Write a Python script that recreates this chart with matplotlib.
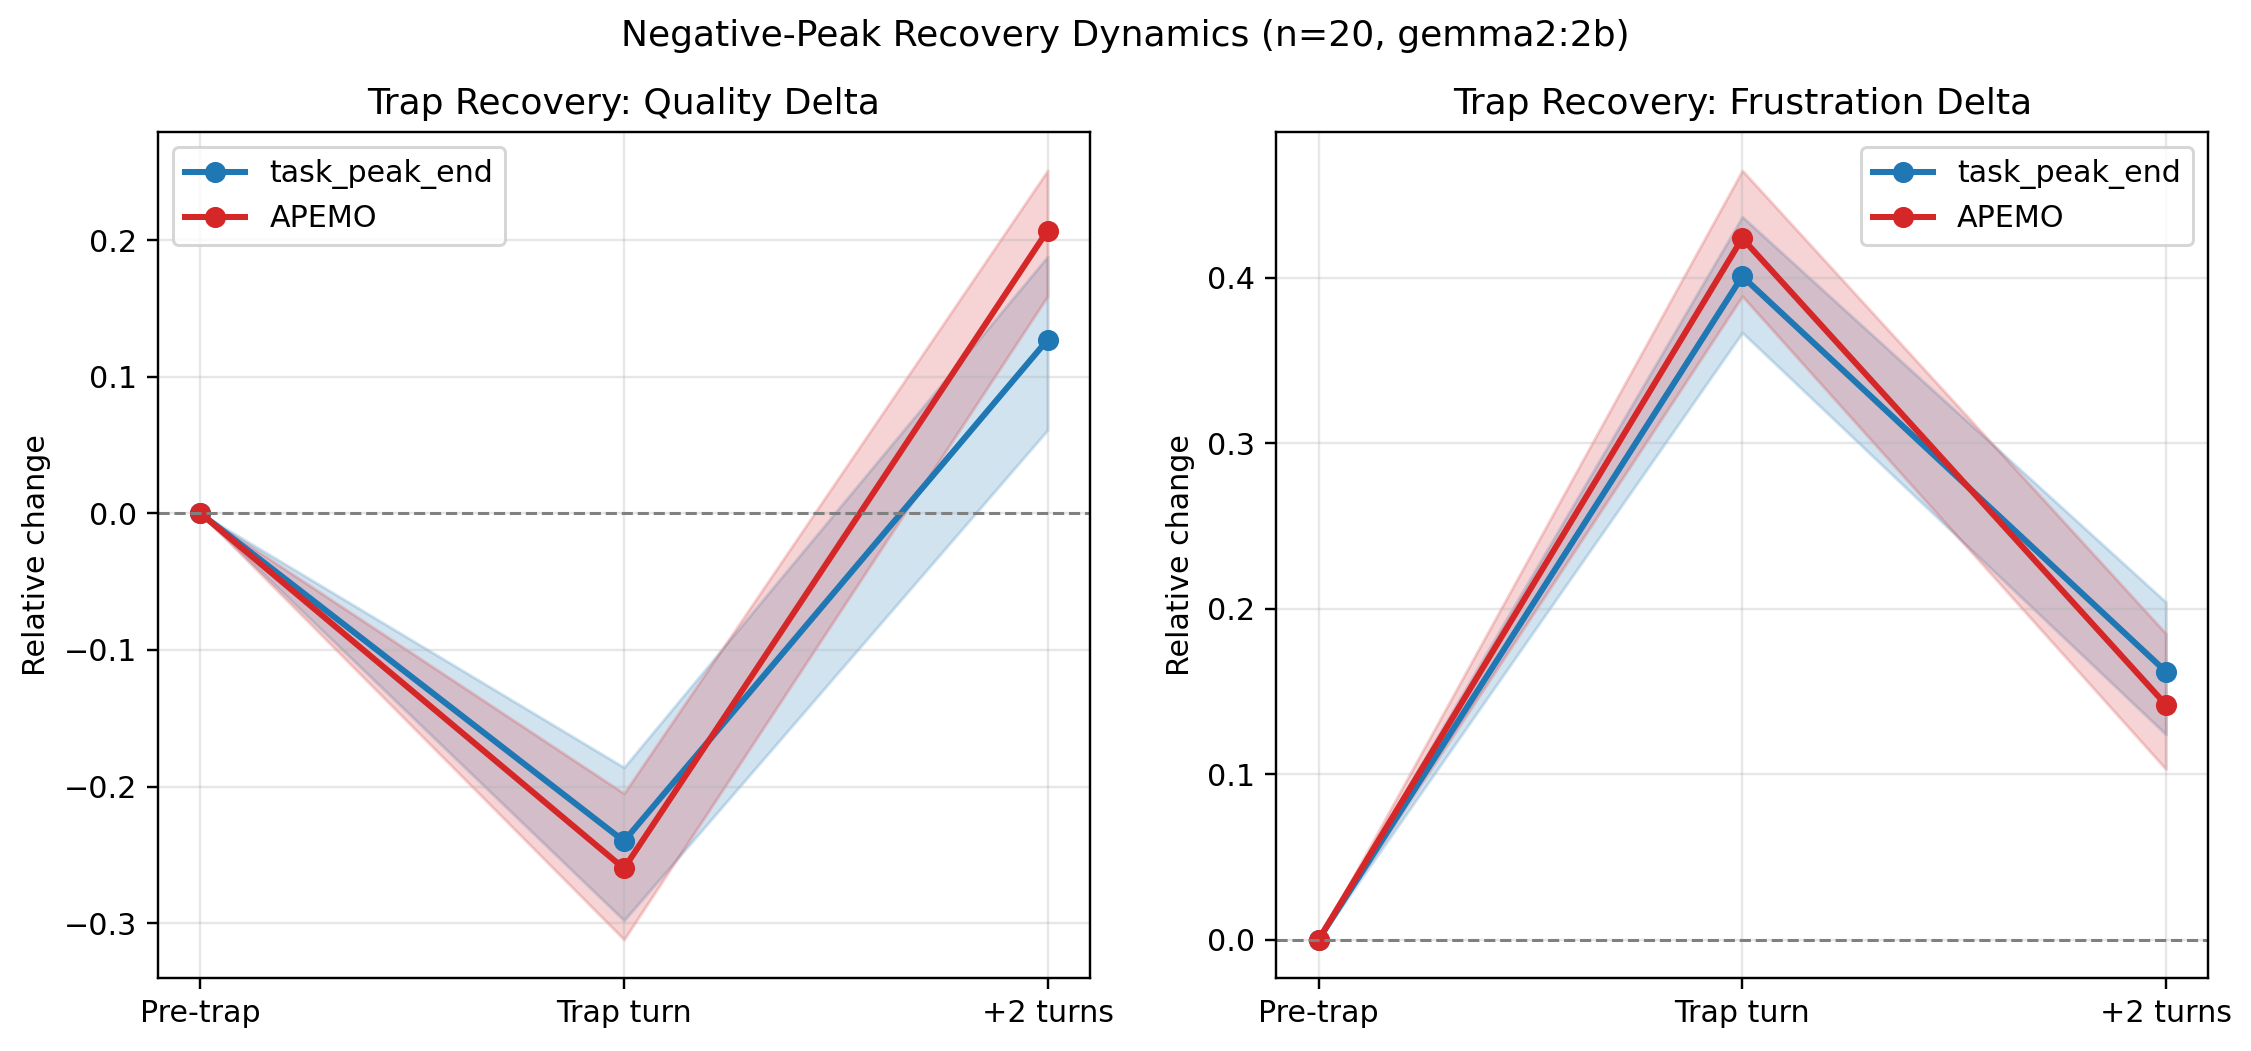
import matplotlib.pyplot as plt

# =========================
# DATA
# =========================
stages = ["Pre-trap", "Trap turn", "+2 turns"]

# Quality delta
q_tpe_mean = [0.0, -0.240, 0.127]
q_tpe_low = [0.0, -0.298, 0.061]
q_tpe_high = [0.0, -0.186, 0.188]
q_apemo_mean = [0.0, -0.260, 0.207]
q_apemo_low = [0.0, -0.312, 0.159]
q_apemo_high = [0.0, -0.205, 0.251]

# Frustration delta
f_tpe_mean = [0.0, 0.401, 0.162]
f_tpe_low = [0.0, 0.367, 0.124]
f_tpe_high = [0.0, 0.437, 0.204]
f_apemo_mean = [0.0, 0.424, 0.142]
f_apemo_low = [0.0, 0.389, 0.103]
f_apemo_high = [0.0, 0.465, 0.185]

BLUE = "#1f77b4"
RED = "#d62728"
DPI = 217


# =========================
# PLOT
# =========================
def draw_panel(ax, title, series, legend_loc):
    x = list(range(len(stages)))
    for label, color, mean, low, high in series:
        ax.fill_between(x, low, high, color=color, alpha=0.2)
        ax.plot(x, mean, "o-", color=color, label=label, linewidth=2, markersize=6)
    ax.axhline(0, color="gray", linestyle="--", linewidth=1)
    ax.set_xticks(x)
    ax.set_xticklabels(stages)
    ax.set_ylabel("Relative change")
    ax.set_title(title)
    ax.grid(True, alpha=0.3)
    ax.legend(loc=legend_loc)


fig, axes = plt.subplots(1, 2, figsize=(2251 / DPI, 1051 / DPI), dpi=DPI)

draw_panel(
    axes[0],
    "Trap Recovery: Quality Delta",
    [
        ("task_peak_end", BLUE, q_tpe_mean, q_tpe_low, q_tpe_high),
        ("APEMO", RED, q_apemo_mean, q_apemo_low, q_apemo_high),
    ],
    "upper left",
)
draw_panel(
    axes[1],
    "Trap Recovery: Frustration Delta",
    [
        ("task_peak_end", BLUE, f_tpe_mean, f_tpe_low, f_tpe_high),
        ("APEMO", RED, f_apemo_mean, f_apemo_low, f_apemo_high),
    ],
    "upper right",
)

fig.suptitle("Negative-Peak Recovery Dynamics (n=20, gemma2:2b)", fontsize=12, y=0.982)
fig.subplots_adjust(left=0.0702, right=0.981, bottom=0.0695, top=0.8744, wspace=0.2)

fig.savefig("out.png", dpi=DPI)
